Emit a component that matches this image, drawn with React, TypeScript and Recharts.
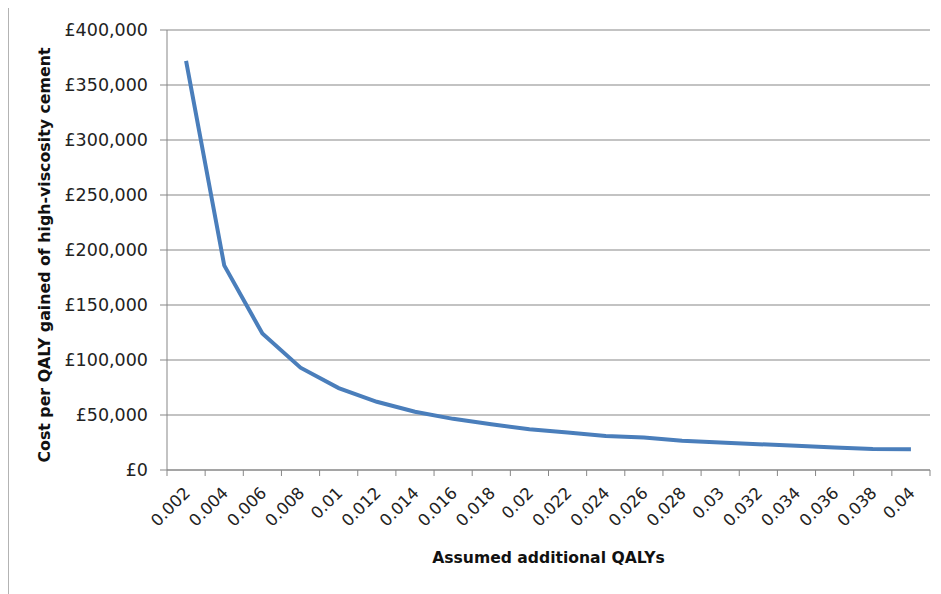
import React from "react";
import { LineChart, Line, XAxis, YAxis, CartesianGrid } from "recharts";

const qalys = [0.002, 0.004, 0.006, 0.008, 0.01, 0.012, 0.014, 0.016, 0.018, 0.02, 0.022, 0.024, 0.026, 0.028, 0.03, 0.032, 0.034, 0.036, 0.038, 0.04];
const costPerQaly = [372000, 186000, 124000, 93000, 74500, 62000, 53000, 46500, 41500, 37000, 34000, 31000, 29500, 26500, 25000, 23500, 22000, 20500, 19000, 18800];
const yTicks = [0, 50000, 100000, 150000, 200000, 250000, 300000, 350000, 400000];
const xTitle = "Assumed additional QALYs";
const yTitle = "Cost per QALY gained of high-viscosity cement";

const data = qalys.map((q, i) => ({ q, cost: costPerQaly[i] }));

const W = 932;
const H = 586;
const M = { top: 22, right: 11, left: 0, bottom: 0 };
const Y_W = 158;
const X_H = 124;
const PLOT_W = W - M.right - Y_W;
const STEP = 0.002;
const DOMAIN: [number, number] = [0.001, 0.041];
const HALF_PX = (PLOT_W * (STEP / 2)) / (DOMAIN[1] - DOMAIN[0]);
const FONT = "'DejaVu Sans', sans-serif";
const GREY = "#878787";

const XTick = (props: any) => {
  const { x, y, payload, index } = props;
  const last = index === qalys.length - 1;
  const tx = x + 5;
  const ty = y + 24;
  return (
    <g>
      <line x1={x - HALF_PX} y1={y} x2={x - HALF_PX} y2={y + 6} stroke={GREY} strokeWidth={1} />
      {last && <line x1={x + HALF_PX} y1={y} x2={x + HALF_PX} y2={y + 6} stroke={GREY} strokeWidth={1} />}
      <text
        x={tx}
        y={ty}
        transform={`rotate(-45 ${tx} ${ty})`}
        textAnchor="end"
        fontFamily={FONT}
        fontSize={16.5}
        fill="#222"
      >
        {String(payload.value)}
      </text>
    </g>
  );
};

const fmtPound = (v: number) => "£" + v.toLocaleString("en-GB");

export default function App() {
  return (
    <div
      style={{
        width: W,
        height: H,
        marginTop: -1,
        borderLeft: "1px solid #b3b3b3",
        borderTop: "1px solid #b3b3b3",
        background: "#fff",
      }}
    >
      <LineChart width={W} height={H} data={data} margin={M}>
        <CartesianGrid vertical={false} stroke={GREY} strokeWidth={1} />
        <XAxis
          dataKey="q"
          type="number"
          domain={DOMAIN}
          ticks={qalys}
          interval={0}
          height={X_H}
          axisLine={{ stroke: GREY }}
          tickLine={false}
          tickSize={0}
          tickMargin={0}
          tick={<XTick />}
          label={{
            content: (p: any) => {
              const vb = p.viewBox;
              return (
                <text
                  x={vb.x + vb.width / 2}
                  y={vb.y + 93}
                  textAnchor="middle"
                  fontFamily={FONT}
                  fontWeight="bold"
                  fontSize={15.6}
                  fill="#111"
                >
                  {xTitle}
                </text>
              );
            },
          }}
        />
        <YAxis
          domain={[0, 400000]}
          ticks={yTicks}
          interval={0}
          width={Y_W}
          axisLine={{ stroke: GREY }}
          tickLine={{ stroke: GREY }}
          tickSize={7}
          tickMargin={12}
          tickFormatter={fmtPound}
          tick={{ fontFamily: FONT, fontSize: 17.5, fill: "#222" }}
          label={{
            content: (p: any) => {
              const vb = p.viewBox;
              const cx = 41;
              const cy = vb.y + vb.height / 2 + 5;
              return (
                <text
                  x={cx}
                  y={cy}
                  transform={`rotate(-90 ${cx} ${cy})`}
                  textAnchor="middle"
                  fontFamily={FONT}
                  fontWeight="bold"
                  fontSize={15.8}
                  fill="#111"
                >
                  {yTitle}
                </text>
              );
            },
          }}
        />
        <Line
          type="linear"
          dataKey="cost"
          stroke="#4a7ebb"
          strokeWidth={4}
          dot={false}
          isAnimationActive={false}
        />
      </LineChart>
    </div>
  );
}
